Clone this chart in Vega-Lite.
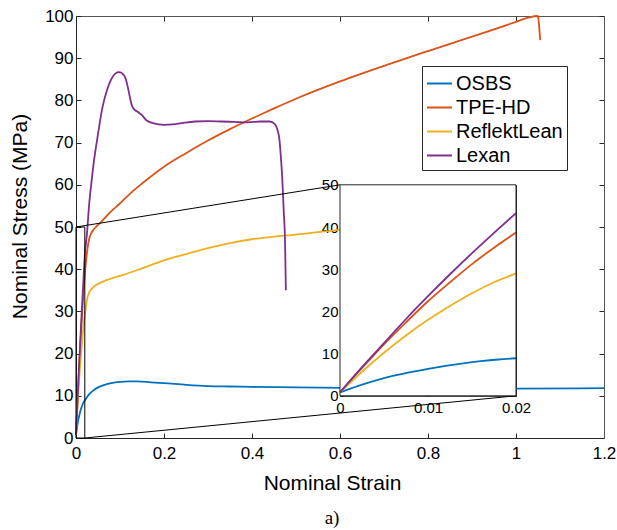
{
  "$schema": "https://vega.github.io/schema/vega-lite/v6.json",
  "width": 528,
  "height": 422,
  "autosize": {"type": "none"},
  "padding": {"left": 76, "top": 16, "right": 13, "bottom": 92},
  "config": {
    "view": {"stroke": null},
    "font": "Liberation Sans",
    "axis": {"grid": false, "labelFlush": false, "labelOverlap": false, "labelColor": "black", "titleColor": "black", "domainColor": "#262626", "tickColor": "#262626", "labelFont": "Liberation Sans", "titleFont": "Liberation Sans", "titleFontWeight": "normal"}
  },
  "title": {"text": "a)", "orient": "bottom", "font": "Liberation Serif", "fontSize": 19, "fontWeight": "normal", "color": "black", "anchor": "middle", "frame": "group", "dx": -8, "offset": 16},
  "datasets": {
    "curves": [
      {"s": "OSBS", "x": 0, "y": 0.8}, {"s": "OSBS", "x": 0.002, "y": 2.3}, {"s": "OSBS", "x": 0.004, "y": 3.6}, {"s": "OSBS", "x": 0.006, "y": 4.7}, {"s": "OSBS", "x": 0.008, "y": 5.6}, {"s": "OSBS", "x": 0.01, "y": 6.4}, {"s": "OSBS", "x": 0.012, "y": 7.1}, {"s": "OSBS", "x": 0.014, "y": 7.7}, {"s": "OSBS", "x": 0.016, "y": 8.2}, {"s": "OSBS", "x": 0.018, "y": 8.6}, {"s": "OSBS", "x": 0.02, "y": 8.9}, {"s": "OSBS", "x": 0.03, "y": 10.4}, {"s": "OSBS", "x": 0.04, "y": 11.3}, {"s": "OSBS", "x": 0.05, "y": 12.0}, {"s": "OSBS", "x": 0.065, "y": 12.6}, {"s": "OSBS", "x": 0.08, "y": 13.0}, {"s": "OSBS", "x": 0.1, "y": 13.3}, {"s": "OSBS", "x": 0.12, "y": 13.4}, {"s": "OSBS", "x": 0.14, "y": 13.4}, {"s": "OSBS", "x": 0.17, "y": 13.2}, {"s": "OSBS", "x": 0.2, "y": 13.0}, {"s": "OSBS", "x": 0.25, "y": 12.6}, {"s": "OSBS", "x": 0.3, "y": 12.3}, {"s": "OSBS", "x": 0.35, "y": 12.2}, {"s": "OSBS", "x": 0.4, "y": 12.1}, {"s": "OSBS", "x": 0.5, "y": 12.0}, {"s": "OSBS", "x": 0.6, "y": 11.9}, {"s": "OSBS", "x": 0.8, "y": 11.8}, {"s": "OSBS", "x": 1.0, "y": 11.7}, {"s": "OSBS", "x": 1.2, "y": 11.8},
      {"s": "TPE-HD", "x": 0, "y": 0.8}, {"s": "TPE-HD", "x": 0.0025, "y": 6.6}, {"s": "TPE-HD", "x": 0.005, "y": 12.2}, {"s": "TPE-HD", "x": 0.0075, "y": 17.4}, {"s": "TPE-HD", "x": 0.01, "y": 22.4}, {"s": "TPE-HD", "x": 0.0125, "y": 26.9}, {"s": "TPE-HD", "x": 0.015, "y": 31.2}, {"s": "TPE-HD", "x": 0.0175, "y": 35.1}, {"s": "TPE-HD", "x": 0.02, "y": 38.7}, {"s": "TPE-HD", "x": 0.025, "y": 44.0}, {"s": "TPE-HD", "x": 0.03, "y": 47.2}, {"s": "TPE-HD", "x": 0.035, "y": 48.6}, {"s": "TPE-HD", "x": 0.04, "y": 49.4}, {"s": "TPE-HD", "x": 0.05, "y": 50.5}, {"s": "TPE-HD", "x": 0.06, "y": 51.5}, {"s": "TPE-HD", "x": 0.075, "y": 53.2}, {"s": "TPE-HD", "x": 0.1, "y": 55.6}, {"s": "TPE-HD", "x": 0.125, "y": 58.1}, {"s": "TPE-HD", "x": 0.15, "y": 60.3}, {"s": "TPE-HD", "x": 0.2, "y": 64.3}, {"s": "TPE-HD", "x": 0.25, "y": 67.5}, {"s": "TPE-HD", "x": 0.3, "y": 70.5}, {"s": "TPE-HD", "x": 0.35, "y": 73.2}, {"s": "TPE-HD", "x": 0.4, "y": 75.7}, {"s": "TPE-HD", "x": 0.45, "y": 78.1}, {"s": "TPE-HD", "x": 0.5, "y": 80.4}, {"s": "TPE-HD", "x": 0.6, "y": 84.5}, {"s": "TPE-HD", "x": 0.7, "y": 88.2}, {"s": "TPE-HD", "x": 0.8, "y": 91.7}, {"s": "TPE-HD", "x": 0.9, "y": 95.1}, {"s": "TPE-HD", "x": 1.0, "y": 98.6}, {"s": "TPE-HD", "x": 1.03, "y": 99.7}, {"s": "TPE-HD", "x": 1.05, "y": 100}, {"s": "TPE-HD", "x": 1.053, "y": 97}, {"s": "TPE-HD", "x": 1.055, "y": 94.3},
      {"s": "ReflektLean", "x": 0, "y": 0.8}, {"s": "ReflektLean", "x": 0.0025, "y": 5.7}, {"s": "ReflektLean", "x": 0.005, "y": 10.2}, {"s": "ReflektLean", "x": 0.0075, "y": 14.3}, {"s": "ReflektLean", "x": 0.01, "y": 18.0}, {"s": "ReflektLean", "x": 0.0125, "y": 21.3}, {"s": "ReflektLean", "x": 0.015, "y": 24.3}, {"s": "ReflektLean", "x": 0.0175, "y": 26.9}, {"s": "ReflektLean", "x": 0.02, "y": 29.0}, {"s": "ReflektLean", "x": 0.025, "y": 32.8}, {"s": "ReflektLean", "x": 0.03, "y": 34.5}, {"s": "ReflektLean", "x": 0.04, "y": 35.8}, {"s": "ReflektLean", "x": 0.06, "y": 37.0}, {"s": "ReflektLean", "x": 0.09, "y": 38.1}, {"s": "ReflektLean", "x": 0.12, "y": 39.1}, {"s": "ReflektLean", "x": 0.15, "y": 40.2}, {"s": "ReflektLean", "x": 0.2, "y": 42.1}, {"s": "ReflektLean", "x": 0.25, "y": 43.6}, {"s": "ReflektLean", "x": 0.3, "y": 45.0}, {"s": "ReflektLean", "x": 0.35, "y": 46.2}, {"s": "ReflektLean", "x": 0.4, "y": 47.1}, {"s": "ReflektLean", "x": 0.45, "y": 47.7}, {"s": "ReflektLean", "x": 0.5, "y": 48.2}, {"s": "ReflektLean", "x": 0.55, "y": 48.8}, {"s": "ReflektLean", "x": 0.6, "y": 49.3}, {"s": "ReflektLean", "x": 0.65, "y": 49.8}, {"s": "ReflektLean", "x": 0.75, "y": 50.6},
      {"s": "Lexan", "x": 0, "y": 0.8}, {"s": "Lexan", "x": 0.0025, "y": 6.8}, {"s": "Lexan", "x": 0.005, "y": 12.5}, {"s": "Lexan", "x": 0.0075, "y": 18.2}, {"s": "Lexan", "x": 0.01, "y": 23.6}, {"s": "Lexan", "x": 0.0125, "y": 28.8}, {"s": "Lexan", "x": 0.015, "y": 33.8}, {"s": "Lexan", "x": 0.0175, "y": 38.6}, {"s": "Lexan", "x": 0.02, "y": 43.3}, {"s": "Lexan", "x": 0.025, "y": 48.5}, {"s": "Lexan", "x": 0.03, "y": 55.5}, {"s": "Lexan", "x": 0.035, "y": 60.5}, {"s": "Lexan", "x": 0.04, "y": 65.0}, {"s": "Lexan", "x": 0.05, "y": 72.0}, {"s": "Lexan", "x": 0.06, "y": 78.3}, {"s": "Lexan", "x": 0.07, "y": 82.3}, {"s": "Lexan", "x": 0.08, "y": 85.0}, {"s": "Lexan", "x": 0.09, "y": 86.4}, {"s": "Lexan", "x": 0.097, "y": 86.7}, {"s": "Lexan", "x": 0.105, "y": 86.4}, {"s": "Lexan", "x": 0.112, "y": 85.4}, {"s": "Lexan", "x": 0.117, "y": 83.5}, {"s": "Lexan", "x": 0.122, "y": 81.0}, {"s": "Lexan", "x": 0.127, "y": 78.8}, {"s": "Lexan", "x": 0.133, "y": 77.8}, {"s": "Lexan", "x": 0.14, "y": 77.3}, {"s": "Lexan", "x": 0.15, "y": 76.5}, {"s": "Lexan", "x": 0.16, "y": 75.3}, {"s": "Lexan", "x": 0.175, "y": 74.6}, {"s": "Lexan", "x": 0.2, "y": 74.2}, {"s": "Lexan", "x": 0.22, "y": 74.3}, {"s": "Lexan", "x": 0.24, "y": 74.6}, {"s": "Lexan", "x": 0.27, "y": 75.0}, {"s": "Lexan", "x": 0.3, "y": 75.1}, {"s": "Lexan", "x": 0.33, "y": 75.0}, {"s": "Lexan", "x": 0.36, "y": 74.9}, {"s": "Lexan", "x": 0.39, "y": 74.8}, {"s": "Lexan", "x": 0.42, "y": 75.0}, {"s": "Lexan", "x": 0.44, "y": 75.0}, {"s": "Lexan", "x": 0.452, "y": 74.4}, {"s": "Lexan", "x": 0.458, "y": 73.0}, {"s": "Lexan", "x": 0.4625, "y": 70.6}, {"s": "Lexan", "x": 0.466, "y": 66.0}, {"s": "Lexan", "x": 0.4686, "y": 61.9}, {"s": "Lexan", "x": 0.472, "y": 54.0}, {"s": "Lexan", "x": 0.475, "y": 46.9}, {"s": "Lexan", "x": 0.477, "y": 35.0}
    ]
  },
  "layer": [
    {
      "layer": [
        {
          "data": {"name": "curves"},
          "mark": {"type": "line", "strokeWidth": 1.8, "interpolate": "monotone"},
          "encoding": {
            "x": {"field": "x", "type": "quantitative", "scale": {"domain": [0, 1.2], "nice": false},
              "axis": {"orient": "bottom", "values": [0, 0.2, 0.4, 0.6, 0.8, 1, 1.2], "format": "~g", "tickSize": -5, "labelFontSize": 17, "labelPadding": 12, "title": "Nominal Strain", "titleFontSize": 21, "titleX": 256, "titleY": 51, "titleBaseline": "alphabetic", "titleAnchor": null}},
            "y": {"field": "y", "type": "quantitative", "scale": {"domain": [0, 100], "nice": false},
              "axis": {"orient": "left", "values": [0, 10, 20, 30, 40, 50, 60, 70, 80, 90, 100], "tickSize": -5, "labelFontSize": 17, "labelPadding": 8, "title": "Nominal Stress (MPa)", "titleFontSize": 21, "titleX": -50, "titleY": 200, "titleBaseline": "alphabetic", "titleAngle": 270}},
            "color": {"field": "s", "type": "nominal",
              "scale": {"domain": ["OSBS", "TPE-HD", "ReflektLean", "Lexan"], "range": ["#0072BD", "#D95319", "#EDB120", "#7E2F8E"]},
              "legend": {"orient": "none", "legendX": 346, "legendY": 50, "title": null, "symbolType": "stroke", "symbolSize": 625, "symbolStrokeWidth": 2, "labelFont": "Liberation Sans", "labelFontSize": 20, "labelColor": "black", "strokeColor": "#262626", "fillColor": "white", "padding": 4, "rowPadding": -2, "labelOffset": 3}}
          }
        },
        {
          "data": {"values": [{"x0": 0, "x1": 0.02, "y0": 0, "y1": 50}]},
          "mark": {"type": "rect", "fill": null, "stroke": "black", "strokeWidth": 1},
          "encoding": {
            "x": {"field": "x0", "type": "quantitative", "axis": null},
            "x2": {"field": "x1"},
            "y": {"field": "y0", "type": "quantitative", "axis": null},
            "y2": {"field": "y1"}
          }
        },
        {
          "data": {"values": [{"xa": 0, "ya": 50, "xb": 0.6, "yb": 60}, {"xa": 0.02, "ya": 0, "xb": 1.0, "yb": 10}]},
          "mark": {"type": "rule", "color": "black", "strokeWidth": 1},
          "encoding": {
            "x": {"field": "xa", "type": "quantitative", "axis": null},
            "x2": {"field": "xb"},
            "y": {"field": "ya", "type": "quantitative", "axis": null},
            "y2": {"field": "yb"}
          }
        },
        {
          "data": {"values": [{"x0": 0, "x1": 1.2, "y0": 0, "y1": 100}]},
          "mark": {"type": "rect", "fill": null, "stroke": null},
          "encoding": {
            "x": {"field": "x0", "type": "quantitative",
              "axis": {"orient": "top", "values": [0, 0.2, 0.4, 0.6, 0.8, 1, 1.2], "labels": false, "tickSize": -5, "title": null, "domainColor": "#555555"}},
            "x2": {"field": "x1"},
            "y": {"field": "y0", "type": "quantitative",
              "axis": {"orient": "right", "values": [0, 10, 20, 30, 40, 50, 60, 70, 80, 90, 100], "labels": false, "tickSize": -5, "title": null, "domainColor": "#555555"}},
            "y2": {"field": "y1"}
          }
        }
      ],
      "resolve": {"axis": {"x": "independent", "y": "independent"}}
    },
    {
      "layer": [
        {
          "data": {"values": [{"x0": 0, "x1": 0.02, "y0": 0, "y1": 50}]},
          "mark": {"type": "rect", "fill": "white", "stroke": null},
          "encoding": {
            "x": {"field": "x0", "type": "quantitative", "scale": {"domain": [0, 0.02], "range": [264, 440], "nice": false, "zero": false},
              "axis": {"orient": "bottom", "offset": -42.2, "values": [0, 0.01, 0.02], "format": "~g", "tickSize": -4, "labelFontSize": 15, "labelPadding": 9, "title": null}},
            "x2": {"field": "x1"},
            "y": {"field": "y0", "type": "quantitative", "scale": {"domain": [0, 50], "range": [379.8, 168.8], "nice": false, "zero": false},
              "axis": {"orient": "left", "offset": -264, "values": [0, 10, 20, 30, 40, 50], "tickSize": -4, "labelFontSize": 15, "labelPadding": 6, "title": null}},
            "y2": {"field": "y1"}
          }
        },
        {
          "data": {"name": "curves"},
          "transform": [{"filter": "datum.x <= 0.0201"}],
          "mark": {"type": "line", "strokeWidth": 1.8, "interpolate": "monotone"},
          "encoding": {
            "x": {"field": "x", "type": "quantitative", "axis": null},
            "y": {"field": "y", "type": "quantitative", "axis": null},
            "color": {"field": "s", "type": "nominal", "legend": null}
          }
        },
        {
          "data": {"values": [{"x0": 0, "x1": 0.02, "y0": 0, "y1": 50}]},
          "mark": {"type": "rect", "fill": null, "stroke": "#262626", "strokeWidth": 1},
          "encoding": {
            "x": {"field": "x0", "type": "quantitative",
              "axis": {"orient": "top", "offset": -211, "values": [0, 0.01, 0.02], "labels": false, "tickSize": -4, "title": null}},
            "x2": {"field": "x1"},
            "y": {"field": "y0", "type": "quantitative",
              "axis": {"orient": "right", "offset": -88, "values": [0, 10, 20, 30, 40, 50], "labels": false, "tickSize": -4, "title": null}},
            "y2": {"field": "y1"}
          }
        }
      ],
      "resolve": {"axis": {"x": "independent", "y": "independent"}}
    }
  ],
  "resolve": {"scale": {"x": "independent", "y": "independent"}}
}
